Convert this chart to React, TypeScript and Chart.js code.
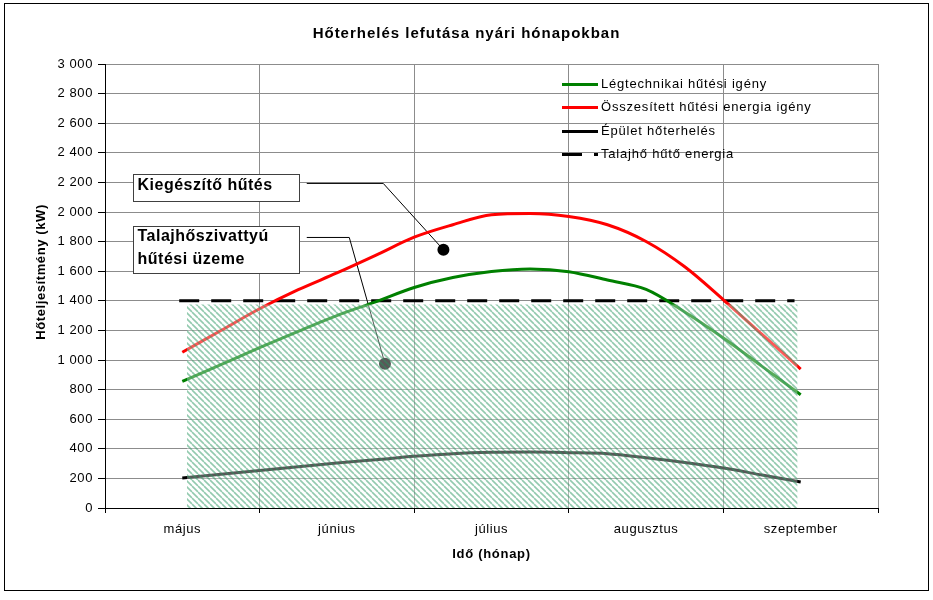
import React, { useEffect, useRef } from 'react';
import { Chart, registerables } from 'chart.js';

Chart.register(...registerables);

// ---- data ----
const months = ['május', 'június', 'július', 'augusztus', 'szeptember'];
// sample positions in month units (0 = május ... 4 = szeptember)
const sampleX = [0, 0.25, 0.5, 0.75, 1, 1.25, 1.5, 1.75, 2, 2.25, 2.5, 2.75, 3, 3.25, 3.5, 3.75, 4];
const legtechnikai = [855, 968, 1083, 1194, 1300, 1393, 1490, 1557, 1598, 1615, 1597, 1540, 1477, 1325, 1149, 957, 765];
const osszesitett = [1052, 1199, 1346, 1475, 1588, 1707, 1830, 1914, 1982, 1990, 1970, 1914, 1801, 1630, 1407, 1173, 939];
const epulet = [203, 228, 253, 278, 304, 326, 349, 367, 376, 378, 374, 367, 340, 308, 270, 223, 176];
const talajhoX = [-0.02, 3.96];
const talajhoY = [1400, 1400];
const hatchX = [0.03, 3.98];
const hatchY = [1375, 1375];
const xTickValues = [-0.5, 0, 0.5, 1, 1.5, 2, 2.5, 3, 3.5, 4, 4.5];
const yTickValues = [0, 200, 400, 600, 800, 1000, 1200, 1400, 1600, 1800, 2000, 2200, 2400, 2600, 2800, 3000];

const seriesLabels = [
  'Légtechnikai hűtési igény',
  'Összesített hűtési energia igény',
  'Épület hőterhelés',
  'Talajhő hűtő energia',
];

const titleText = 'Hőterhelés lefutása nyári hónapokban';
const yTitleText = 'Hőteljesítmény (kW)';
const xTitleText = 'Idő (hónap)';

// annotation layout (in data units)
const annotBoxes = [
  { lines: ['Kiegészítő hűtés'], x0: -0.322, x1: 0.757, y0: 2259, y1: 2074 },
  { lines: ['Talajhőszivattyú', 'hűtési üzeme'], x0: -0.322, x1: 0.757, y0: 1903, y1: 1588 },
];
const leaders = [
  { pts: [[0.805, 2193], [1.3, 2193], [1.689, 1745]], dot: '#000000' },
  { pts: [[0.805, 1828], [1.08, 1828], [1.311, 975]], dot: '#000000' },
];

const FONT = "'Liberation Sans', Arial, sans-serif";

const pts = (xs: number[], ys: number[]) => xs.map((x, i) => ({ x, y: ys[i] }));
const fmt = (v: number) => String(v).replace(/\B(?=(\d{3})+(?!\d))/g, ' ');

function makeHatch(): CanvasPattern | string {
  const c = document.createElement('canvas');
  c.width = 6;
  c.height = 6;
  const g = c.getContext('2d');
  if (!g) return 'rgba(100,170,130,0.6)';
  g.fillStyle = 'rgba(255,255,255,0.35)';
  g.fillRect(0, 0, 6, 6);
  g.strokeStyle = 'rgba(40,150,95,0.5)';
  g.lineWidth = 1.6;
  g.beginPath();
  for (const k of [-6, 0, 6]) {
    g.moveTo(k, 0);
    g.lineTo(k + 6, 6);
  }
  g.stroke();
  return g.createPattern(c, 'repeat') || 'rgba(100,170,130,0.6)';
}

const decorPlugin = {
  id: 'decor',
  beforeUpdate(chart: any) {
    chart.ctx.letterSpacing = '0.6px';
  },
  beforeDraw(chart: any) {
    const ctx = chart.ctx;
    ctx.save();
    ctx.fillStyle = '#ffffff';
    ctx.fillRect(0, 0, chart.width, chart.height);
    ctx.restore();
    ctx.letterSpacing = '0.6px';
  },
  beforeDatasetsDraw(chart: any) {
    const ctx = chart.ctx;
    const xs = chart.scales.x;
    const ys = chart.scales.y;
    ctx.save();
    for (const l of leaders) {
      ctx.beginPath();
      l.pts.forEach((p, i) => {
        const px = xs.getPixelForValue(p[0]);
        const py = ys.getPixelForValue(p[1]);
        if (i === 0) ctx.moveTo(px, py);
        else ctx.lineTo(px, py);
      });
      ctx.strokeStyle = '#000';
      ctx.lineWidth = 1;
      ctx.stroke();
      const last = l.pts[l.pts.length - 1];
      ctx.beginPath();
      ctx.arc(xs.getPixelForValue(last[0]), ys.getPixelForValue(last[1]), 6, 0, Math.PI * 2);
      ctx.fillStyle = l.dot;
      ctx.fill();
    }
    ctx.restore();
  },
  afterDraw(chart: any) {
    const ctx = chart.ctx;
    const xs = chart.scales.x;
    const ys = chart.scales.y;
    const area = chart.chartArea;
    ctx.save();
    // outer border
    ctx.strokeStyle = '#000';
    ctx.lineWidth = 1;
    ctx.strokeRect(4.5, 3.5, 924, 587);

    // title
    ctx.fillStyle = '#000';
    ctx.textAlign = 'center';
    ctx.textBaseline = 'middle';
    ctx.font = `bold 15px ${FONT}`;
    ctx.letterSpacing = '1px';
    ctx.fillText(titleText, chart.width / 2, 34);

    // x title
    ctx.font = `bold 13px ${FONT}`;
    ctx.letterSpacing = '0.7px';
    ctx.fillText(xTitleText, (area.left + area.right) / 2, 554);

    // y title
    ctx.save();
    ctx.translate(41, 272);
    ctx.rotate(-Math.PI / 2);
    ctx.letterSpacing = '0.6px';
    ctx.fillText(yTitleText, 0, 0);
    ctx.restore();

    // annotation boxes
    for (const b of annotBoxes) {
      const x0 = Math.round(xs.getPixelForValue(b.x0)) + 0.5;
      const x1 = Math.round(xs.getPixelForValue(b.x1)) + 0.5;
      const y0 = Math.round(ys.getPixelForValue(b.y0)) + 0.5;
      const y1 = Math.round(ys.getPixelForValue(b.y1)) + 0.5;
      ctx.fillStyle = '#fff';
      ctx.fillRect(x0, y0, x1 - x0, y1 - y0);
      ctx.strokeStyle = '#404040';
      ctx.lineWidth = 1;
      ctx.strokeRect(x0, y0, x1 - x0, y1 - y0);
      ctx.fillStyle = '#000';
      ctx.textAlign = 'left';
      ctx.textBaseline = 'middle';
      ctx.font = `bold 16px ${FONT}`;
      ctx.letterSpacing = '0.5px';
      const lh = 22.6;
      const cy = (y0 + y1) / 2 - ((b.lines.length - 1) * lh) / 2 - 2;
      b.lines.forEach((t, i) => ctx.fillText(t, x0 + 4, cy + i * lh));
    }

    // legend
    const lx = area.left + 457;
    const ly = area.top + 20;
    const dy = 23.3;
    const ds = chart.data.datasets.filter((d: any) => d.label);
    ds.forEach((d: any, i: number) => {
      const y = Math.round(ly + i * dy) + 0.5;
      ctx.beginPath();
      ctx.setLineDash(d.borderDash || []);
      ctx.moveTo(lx, y);
      ctx.lineTo(lx + 36, y);
      ctx.strokeStyle = d.borderColor;
      ctx.lineWidth = 3;
      ctx.stroke();
      ctx.setLineDash([]);
      ctx.fillStyle = '#000';
      ctx.font = `13px ${FONT}`;
      ctx.letterSpacing = '0.8px';
      ctx.textAlign = 'left';
      ctx.textBaseline = 'middle';
      ctx.fillText(d.label, lx + 39, y);
    });
    ctx.restore();
  },
};

export default function App() {
  const ref = useRef<HTMLCanvasElement | null>(null);

  useEffect(() => {
    document.body.style.margin = '0';
    const canvas = ref.current;
    if (!canvas) return;
    const hatch = makeHatch();
    const isBoundary = (v: number) => Math.abs(v - Math.round(v)) > 0.25;

    const chart = new Chart(canvas, {
      type: 'line',
      data: {
        datasets: [
          {
            label: seriesLabels[0],
            data: pts(sampleX, legtechnikai),
            borderColor: '#008000',
            borderWidth: 3,
            pointRadius: 0,
            cubicInterpolationMode: 'monotone',
            fill: false,
            order: 2,
          },
          {
            label: seriesLabels[1],
            data: pts(sampleX, osszesitett),
            borderColor: '#ff0000',
            borderWidth: 3,
            pointRadius: 0,
            cubicInterpolationMode: 'monotone',
            fill: false,
            order: 2,
          },
          {
            label: seriesLabels[2],
            data: pts(sampleX, epulet),
            borderColor: '#000000',
            borderWidth: 3,
            pointRadius: 0,
            cubicInterpolationMode: 'monotone',
            fill: false,
            order: 2,
          },
          {
            label: seriesLabels[3],
            data: pts(talajhoX, talajhoY),
            borderColor: '#000000',
            borderWidth: 3,
            borderDash: [20, 12],
            pointRadius: 0,
            fill: false,
            order: 2,
          },
          {
            label: '',
            data: pts(hatchX, hatchY),
            borderWidth: 0,
            borderColor: 'rgba(0,0,0,0)',
            backgroundColor: hatch as any,
            pointRadius: 0,
            fill: 'origin',
            order: 0,
          },
        ],
      },
      options: {
        responsive: false,
        animation: false,
        events: [],
        layout: { padding: { left: 0, top: 64, right: 55, bottom: 0 } },
        plugins: {
          legend: { display: false },
          title: { display: false },
          tooltip: { enabled: false },
        },
        font: { family: FONT },
        scales: {
          x: {
            type: 'linear',
            min: -0.5,
            max: 4.5,
            afterBuildTicks: (s: any) => {
              s.ticks = xTickValues.map((v) => ({ value: v }));
            },
            afterFit: (s: any) => {
              s.height = 92;
            },
            ticks: {
              autoSkip: false,
              maxRotation: 0,
              minRotation: 0,
              padding: 9,
              color: '#000',
              font: { family: FONT, size: 13 },
              callback: (v: any) => (Number.isInteger(v) ? months[v] : ''),
            },
            grid: {
              color: (c: any) => (c.tick && isBoundary(c.tick.value) ? '#8c8c8c' : 'rgba(0,0,0,0)'),
              tickColor: (c: any) => (c.tick && isBoundary(c.tick.value) ? '#000' : 'rgba(0,0,0,0)'),
              tickLength: 5,
              lineWidth: 1,
            },
            border: { color: '#000', width: 1 },
          },
          y: {
            min: 0,
            max: 3000,
            afterBuildTicks: (s: any) => {
              s.ticks = yTickValues.map((v) => ({ value: v }));
            },
            afterFit: (s: any) => {
              s.width = 105;
            },
            ticks: {
              padding: 5,
              color: '#000',
              font: { family: FONT, size: 13 },
              callback: (v: any) => fmt(v),
            },
            grid: {
              color: '#8c8c8c',
              tickColor: '#000',
              tickLength: 7,
              lineWidth: 1,
            },
            border: { color: '#000', width: 1 },
          },
        },
      } as any,
      plugins: [decorPlugin],
    });
    return () => chart.destroy();
  }, []);

  return (
    <div style={{ width: 933, height: 600 }}>
      <canvas ref={ref} width={933} height={600} style={{ display: 'block' }} />
    </div>
  );
}
